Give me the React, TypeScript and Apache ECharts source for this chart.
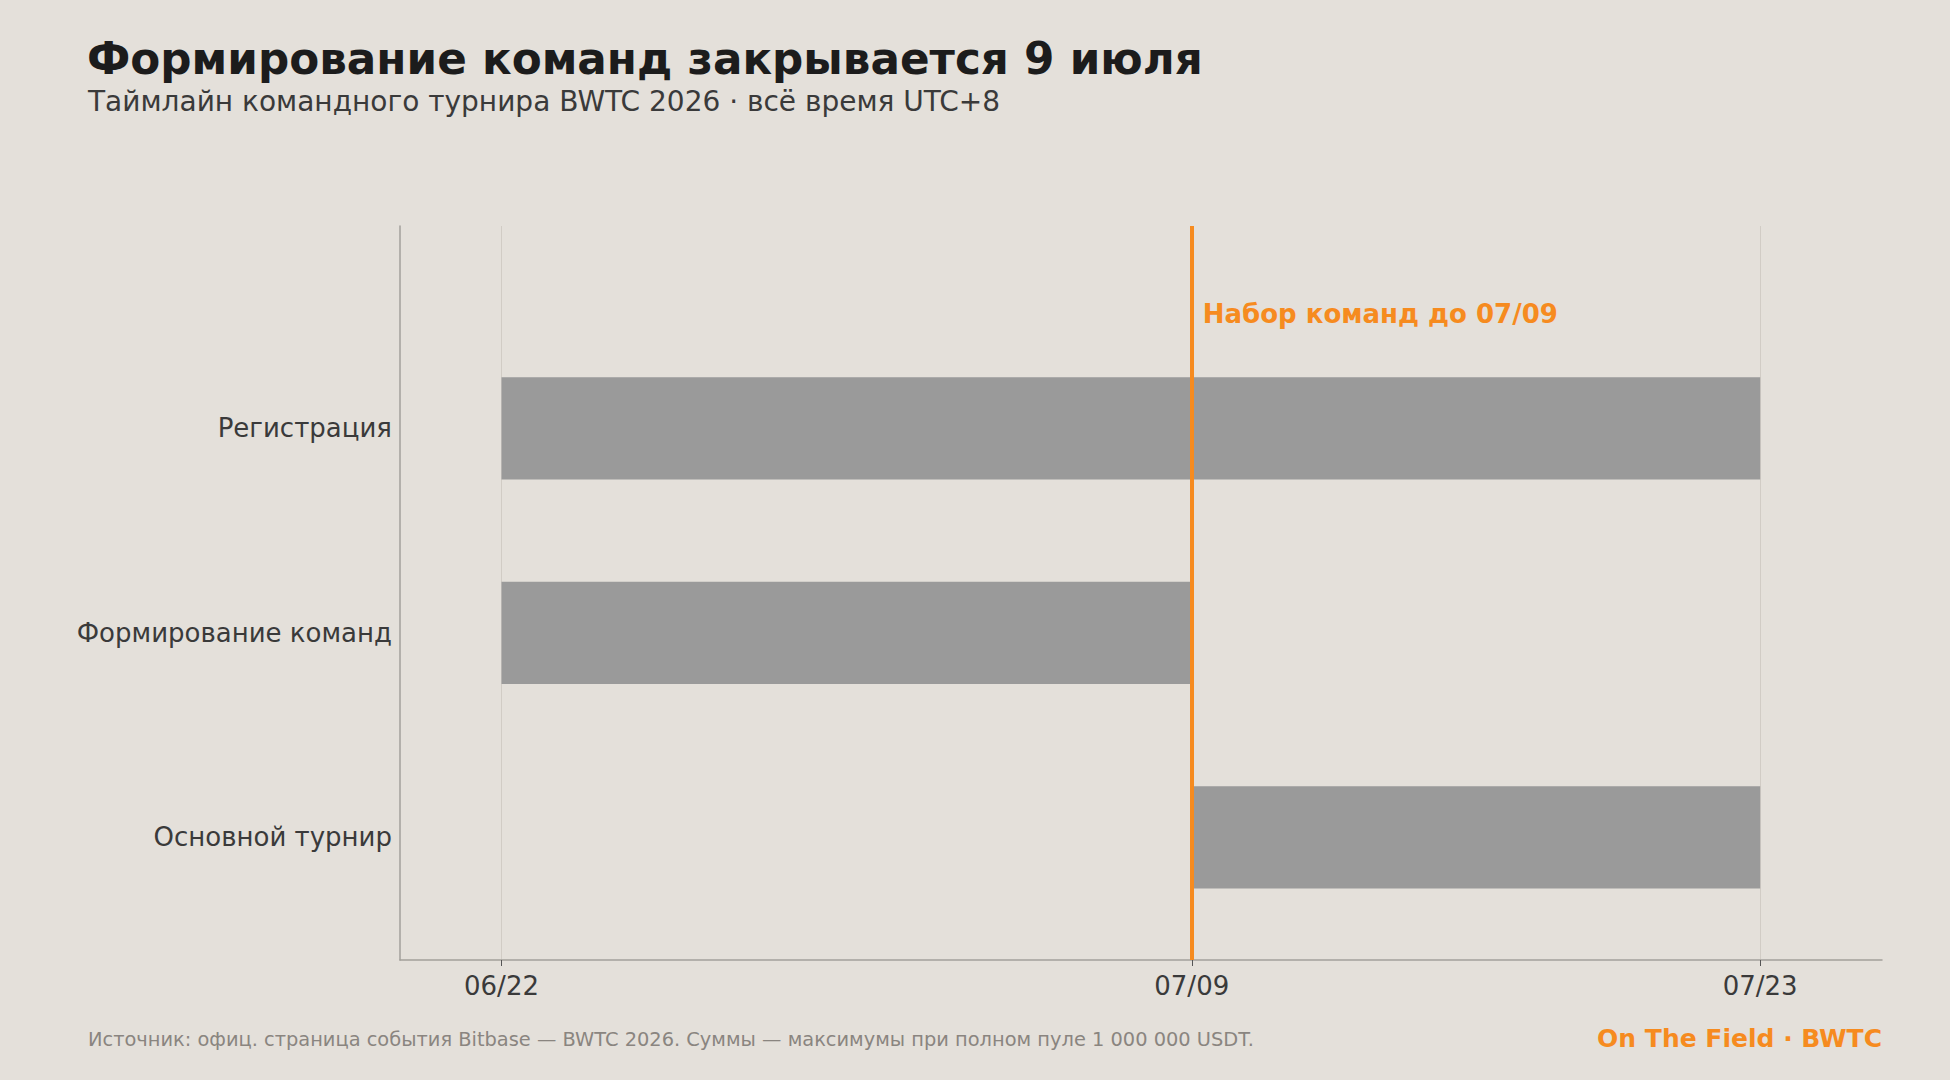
import React, { useEffect, useRef } from "react";
import * as echarts from "echarts";

// Tournament phases, top to bottom
const phases: string[] = ["Регистрация", "Формирование команд", "Основной турнир"];
const phaseStart: string[] = ["06/22", "06/22", "07/09"];
const phaseEnd: string[] = ["07/23", "07/09", "07/23"];

// Dates marked on the time axis
const tickDates: string[] = ["06/22", "07/09", "07/23"];

// Team sign-up deadline
const deadline = "07/09";
const deadlineLabel = "Набор команд до 07/09";

const YEAR = 2026;
const ORIGIN = "06/22";

const BG = "#e4e0da";
const ORANGE = "#f68b1f";
const BAR = "#9a9a9a";
const FONT = "DejaVu Sans";

// Days since the origin date
function dayOf(md: string): number {
  const [m, d] = md.split("/").map(Number);
  const [om, od] = ORIGIN.split("/").map(Number);
  return (Date.UTC(YEAR, m - 1, d) - Date.UTC(YEAR, om - 1, od)) / 86400000;
}

function labelOf(day: number): string {
  const [om, od] = ORIGIN.split("/").map(Number);
  const t = new Date(Date.UTC(YEAR, om - 1, od) + Math.round(day) * 86400000);
  const mm = String(t.getUTCMonth() + 1).padStart(2, "0");
  const dd = String(t.getUTCDate()).padStart(2, "0");
  return `${mm}/${dd}`;
}

export default function App() {
  const ref = useRef<HTMLDivElement>(null);

  useEffect(() => {
    document.body.style.margin = "0";
    if (!ref.current) return;
    const chart = echarts.init(ref.current, null, { renderer: "svg" });

    const tickDays = tickDates.map(dayOf);
    const deadlineDay = dayOf(deadline);
    const barData = phases.map((_, i) => [i, dayOf(phaseStart[i]), dayOf(phaseEnd[i])]);

    chart.setOption({
      animation: false,
      backgroundColor: BG,
      textStyle: { fontFamily: FONT },
      grid: { left: 400, right: 68, top: 226, bottom: 120, containLabel: false },
      xAxis: {
        type: "value",
        min: -2.5,
        max: 34,
        axisLine: { show: true, onZero: false, lineStyle: { color: "#a3a09b", width: 1.5 } },
        axisTick: { show: true, customValues: tickDays, length: 6, lineStyle: { color: "#555", width: 1 } },
        axisLabel: {
          customValues: tickDays,
          formatter: (v: number) => labelOf(v),
          color: "#3a3a3a",
          fontSize: 26,
          fontFamily: FONT,
          margin: 13,
        },
        splitLine: { show: true, lineStyle: { color: "#d1ccc5", width: 1 } },
      },
      yAxis: {
        type: "value",
        inverse: true,
        min: -0.99,
        max: 2.6,
        axisLine: { show: true, onZero: false, lineStyle: { color: "#a3a09b", width: 1.5 } },
        axisTick: { show: false },
        splitLine: { show: false },
        axisLabel: {
          customValues: phases.map((_, i) => i),
          formatter: (v: number) => phases[Math.round(v)] ?? "",
          color: "#3a3a3a",
          fontSize: 26,
          fontFamily: FONT,
          margin: 8,
        },
      },
      series: [
        {
          type: "custom",
          data: barData,
          encode: { x: [1, 2], y: 0 },
          renderItem: (params: any, api: any) => {
            const y = api.value(0);
            const p0 = api.coord([api.value(1), y]);
            const p1 = api.coord([api.value(2), y]);
            const h = api.size([0, 0.5])[1];
            return {
              type: "rect",
              shape: { x: p0[0], y: p0[1] - h / 2, width: p1[0] - p0[0], height: h },
              style: { fill: BAR },
            };
          },
          markLine: {
            silent: true,
            symbol: "none",
            z: 10,
            label: { show: false },
            emphasis: { disabled: true },
            lineStyle: { color: ORANGE, width: 4, type: "solid", opacity: 1 },
            data: [{ xAxis: deadlineDay }],
          },
          z: 2,
        },
        {
          type: "scatter",
          data: [[deadlineDay, -0.56]],
          symbolSize: 0,
          silent: true,
          itemStyle: { opacity: 1 },
          label: {
            show: true,
            position: "right",
            distance: 11,
            formatter: deadlineLabel,
            color: ORANGE,
            opacity: 1,
            textBorderWidth: 0,
            fontSize: 26,
            fontWeight: "bold",
            fontFamily: FONT,
          },
          z: 11,
        },
      ],
      graphic: [
        {
          type: "text",
          left: 87,
          top: 36,
          style: {
            text: "Формирование команд закрывается 9 июля",
            fill: "#1c1c1c",
            font: `bold 43.7px "${FONT}"`,
          },
        },
        {
          type: "text",
          left: 88,
          top: 87,
          style: {
            text: "Таймлайн командного турнира BWTC 2026 · всё время UTC+8",
            fill: "#3a3a3a",
            font: `28px "${FONT}"`,
          },
        },
        {
          type: "text",
          left: 88,
          top: 1030,
          style: {
            text: "Источник: офиц. страница события Bitbase — BWTC 2026. Суммы — максимумы при полном пуле 1 000 000 USDT.",
            fill: "#8a8580",
            font: `19.4px "${FONT}"`,
          },
        },
        {
          type: "text",
          right: 68,
          top: 1026,
          style: {
            text: "On The Field · BWTC",
            fill: ORANGE,
            font: `bold 25px "${FONT}"`,
          },
        },
      ],
    });

    return () => chart.dispose();
  }, []);

  return <div ref={ref} style={{ width: 1950, height: 1080 }} />;
}
